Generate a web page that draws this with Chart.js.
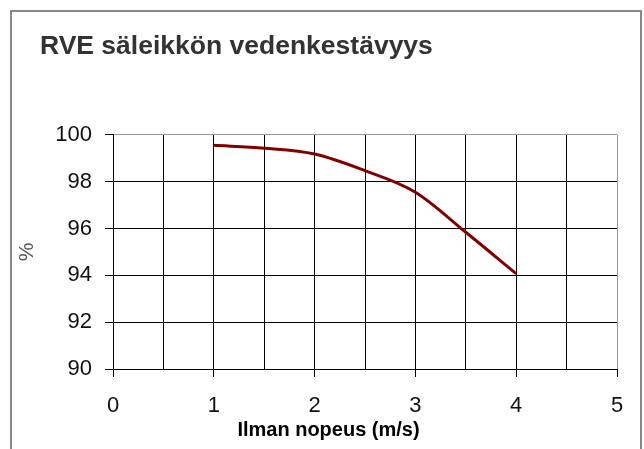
<!DOCTYPE html>
<html>
<head>
<meta charset="utf-8">
<title>RVE säleikkön vedenkestävyys</title>
<script src="https://cdn.jsdelivr.net/npm/chart.js"></script>
<style>
  body { margin: 0; background: #fff; }
</style>
</head>
<body>
<canvas id="myChart" width="644" height="449"></canvas>
<script>
// air speed (m/s) and water resistance (%)
const speeds = [1, 1.5, 2, 2.5, 3, 3.5, 4];
const resistance = [99.55, 99.43, 99.18, 98.47, 97.55, 95.84, 94.07];
const xTicks = [0, 1, 2, 3, 4, 5];
const yTicks = [90, 92, 94, 96, 98, 100];

const titleText = 'RVE säleikkön vedenkestävyys';
const xTitle = 'Ilman nopeus (m/s)';
const yTitle = '%';

const FONT = "'Liberation Sans', Arial, sans-serif";

// grey frame round the whole chart
const frame = {
  id: 'frame',
  beforeDraw(chart) {
    const c = chart.ctx;
    c.save();
    c.fillStyle = '#fff';
    c.fillRect(0, 0, chart.width, chart.height);
    c.strokeStyle = '#888';
    c.lineWidth = 2;
    c.strokeRect(11, 11, chart.width - 14, chart.height + 20);
    c.restore();
  }
};

const ctx = document.getElementById('myChart');
const myChart = new Chart(ctx, {
  type: 'line',
  data: {
    datasets: [{
      data: speeds.map((s, i) => ({ x: s, y: resistance[i] })),
      borderColor: '#800000',
      backgroundColor: 'transparent',
      borderWidth: 3,
      pointRadius: 0,
      cubicInterpolationMode: 'monotone'
    }]
  },
  options: {
    responsive: false,
    animation: false,
    layout: { padding: { left: 40, top: 0, right: 27, bottom: 7 } },
    plugins: {
      legend: { display: false },
      tooltip: { enabled: false },
      title: {
        display: true,
        text: titleText,
        align: 'start',
        color: '#333',
        font: { family: FONT, size: 26.5, weight: 'bold' },
        padding: { top: 31, bottom: 72 }
      },
      subtitle: {
        display: true,
        text: xTitle,
        position: 'bottom',
        color: '#000',
        font: { family: FONT, size: 20, weight: 'bold' },
        padding: 0
      }
    },
    scales: {
      x: {
        type: 'linear',
        min: 0,
        max: 5,
        afterFit: (scale) => { scale.height = 49; },
        afterBuildTicks: (scale) => {
          // grid every 0.5, labels only on whole numbers
          const t = [];
          for (let v = xTicks[0]; v <= xTicks[xTicks.length - 1]; v += 0.5) t.push({ value: v });
          scale.ticks = t;
        },
        ticks: {
          autoSkip: false,
          maxRotation: 0,
          padding: 16,
          color: '#111',
          font: { family: FONT, size: 22 },
          callback: (v) => xTicks.includes(v) ? String(v) : ''
        },
        grid: {
          color: (c) => c.tick && c.tick.value === 5 ? '#999' : '#000',
          tickColor: (c) => c.tick && xTicks.includes(c.tick.value) ? '#000' : 'rgba(0,0,0,0)',
          tickLength: 8,
          lineWidth: 1
        },
        border: { color: '#000', width: 1 }
      },
      y: {
        min: 90,
        max: 100,
        afterFit: (scale) => { scale.width = 73; },
        afterBuildTicks: (scale) => { scale.ticks = yTicks.map(v => ({ value: v })); },
        ticks: {
          padding: 13,
          color: '#111',
          font: { family: FONT, size: 22 }
        },
        grid: {
          color: (c) => c.tick && c.tick.value === 100 ? '#999' : '#000',
          tickColor: '#000',
          tickLength: 8,
          lineWidth: 1
        },
        border: { color: '#000', width: 1 },
        title: {
          display: true,
          text: yTitle,
          color: '#555',
          font: { family: FONT, size: 21 },
          padding: { top: -25, bottom: 0 }
        }
      }
    }
  },
  plugins: [frame]
});
</script>
</body>
</html>
